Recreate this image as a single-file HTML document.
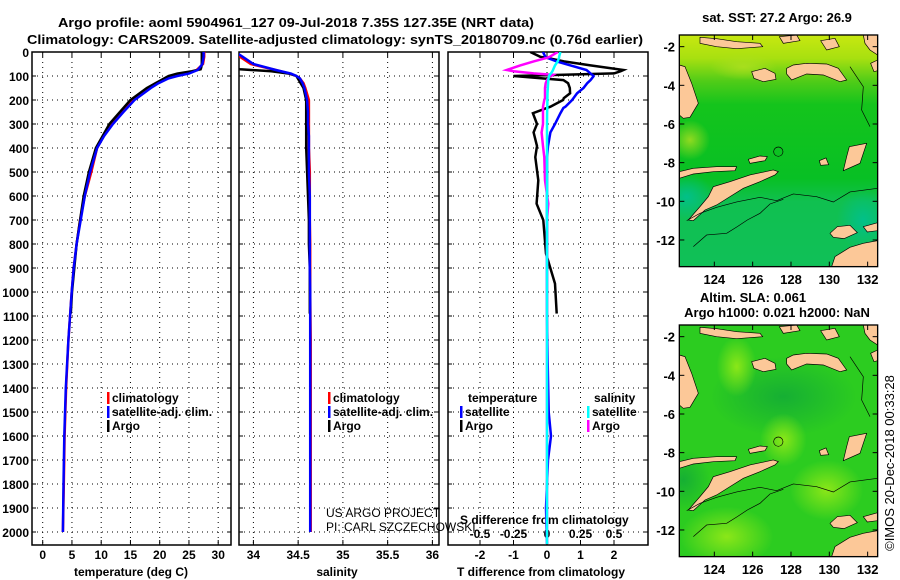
<!DOCTYPE html>
<html><head><meta charset="utf-8"><style>
body{margin:0;background:#fff;}
svg{display:block;font-family:"Liberation Sans",sans-serif;}
.b{font-weight:bold;font-size:13px;fill:#000;}
.t{font-weight:bold;font-size:12px;fill:#000;}
</style></head><body>
<svg id="s" width="900" height="580" viewBox="0 0 900 580" xmlns="http://www.w3.org/2000/svg">
<defs>
<clipPath id="c1"><rect x="32" y="52" width="199" height="493"/></clipPath>
<clipPath id="c2"><rect x="239" y="52" width="200" height="493"/></clipPath>
<clipPath id="c3"><rect x="448" y="52" width="200" height="493"/></clipPath>
<clipPath id="cm"><rect x="88" y="105" width="595" height="695"/></clipPath>
<linearGradient id="g1" x1="0" y1="0" x2="0" y2="1">
<stop offset="0" stop-color="#c8e810"/><stop offset="0.1" stop-color="#a8e010"/><stop offset="0.2" stop-color="#50cc18"/><stop offset="0.3" stop-color="#14c41c"/><stop offset="0.62" stop-color="#08c024"/><stop offset="0.72" stop-color="#10c050"/><stop offset="1" stop-color="#10c058"/></linearGradient>
<radialGradient id="gy"><stop offset="0" stop-color="#b0e020" stop-opacity="0.8"/><stop offset="1" stop-color="#b0e020" stop-opacity="0"/></radialGradient>
<radialGradient id="gt"><stop offset="0" stop-color="#00c090" stop-opacity="0.9"/><stop offset="1" stop-color="#00c090" stop-opacity="0"/></radialGradient>
<radialGradient id="gl"><stop offset="0" stop-color="#90e818" stop-opacity="0.95"/><stop offset="1" stop-color="#90e818" stop-opacity="0"/></radialGradient>
<radialGradient id="gd"><stop offset="0" stop-color="#10a838" stop-opacity="0.8"/><stop offset="1" stop-color="#10a838" stop-opacity="0"/></radialGradient>
<g id="land">
<polygon points="115,660 150,620 175,590 190,560 240,545 300,525 370,510 385,515 375,525 330,545 280,565 240,590 200,615 165,630 130,662"/>
<polygon points="295,478 330,468 352,470 345,482 300,490"/>
<polygon points="88,515 130,505 200,500 260,500 255,512 190,515 130,522 88,535"/>
<polygon points="410,205 430,195 470,190 530,192 565,205 590,240 570,245 520,225 470,222 425,240 410,222"/>
<polygon points="305,215 345,205 375,220 378,238 340,245 312,235"/>
<polygon points="88,195 105,200 125,250 145,310 120,352 100,355 88,345"/>
<polygon points="150,112 200,116 260,125 330,130 338,140 260,146 200,140 150,130"/>
<polygon points="388,110 440,105 450,122 400,130"/>
<polygon points="512,122 555,115 568,140 530,150"/>
<polygon points="640,105 683,105 683,165 660,150 645,130"/>
<polygon points="683,180 662,190 672,215 683,212"/>
<polygon points="598,440 650,430 630,490 580,512 590,470"/>
<polygon points="545,800 555,770 600,742 640,730 683,722 683,800"/>
<polygon points="540,700 562,680 600,676 622,698 582,716 550,712"/>
<polygon points="640,680 683,668 683,692 652,696"/>
<polygon points="508,482 528,474 536,494 512,496"/>
</g>
<g id="coast">
<polyline points="110,662 150,640 200,622 260,606 330,592 380,602 430,582 500,590 550,606 600,576 683,565"/>
<polyline points="130,740 170,705 230,700 262,680 292,660 330,640 360,612 400,598"/>
<polyline points="600,200 640,260 635,330 660,380"/>
<circle cx="385" cy="455" r="14"/>
</g>
</defs>
</svg>
<script>
// ---- data ----
const tDepth = [0,20,50,75,90,100,110,130,150,200,250,300,350,400,500,600,700,800,900,1000,1200,1400,1600,1800,2000];
const tClim = [27.6,27.6,27.4,26.3,24.5,22.5,21,19.3,18,15.3,13.4,11.8,10.4,9.3,8.3,7.2,6.4,5.8,5.3,4.95,4.4,4.0,3.75,3.6,3.45];
const tSat = [27.5,27.5,27.3,26.5,25,23,21.5,19.8,18.5,15.7,13.8,12.0,10.5,9.3,8.1,7.2,6.5,5.8,5.3,4.95,4.4,3.95,3.7,3.55,3.45];
const sClim = [33.8,33.85,33.97,34.25,34.4,34.48,34.52,34.56,34.58,34.62,34.62,34.62,34.62,34.62,34.63,34.63,34.63,34.635,34.635,34.635,34.64,34.64,34.64,34.64,34.64];
const sSat = [33.8,33.88,34.0,34.25,34.42,34.48,34.52,34.55,34.57,34.6,34.61,34.61,34.62,34.62,34.62,34.63,34.63,34.63,34.63,34.635,34.635,34.635,34.635,34.635,34.635];
const aDepth = [0,20,50,65,72,80,90,100,150,200,300,400,500,600,700,800,900,1000,1090];
const tArgo = [27.2,27.2,27.2,27.1,27.0,25.5,23,21.5,17.8,15,11.4,9.1,7.9,7.0,6.4,5.8,5.4,5.0,4.8];
const sArgo = [33.7,33.7,33.7,33.7,33.85,34.2,34.4,34.48,34.56,34.59,34.59,34.59,34.6,34.61,34.62,34.62,34.63,34.63,34.63];
const dDepth = [0,20,24,39,56,75,80,89,95,100,101,117,130,150,172,192,200,228,233,255,300,335,392,438,535,632,701,840,965,1090,1300,1500,1600,1700,1900,2050];
const dtArgo = [-0.5,-0.2,0,0.5,1.3,2.28,2.2,2.0,0.5,-1.0,-0.9,0.49,0.63,0.68,0.69,0.5,0.48,0.1,0,-0.42,-0.3,-0.4,-0.3,-0.35,-0.26,-0.31,-0.11,-0.03,0.24,0.29,null,null,null,null,null,null];
const dtSat = [-0.12,-0.05,0,0.29,0.7,1.18,1.22,1.3,1.35,1.39,1.39,1.3,1.2,1.09,0.9,0.79,0.75,0.55,0.49,0.4,0.24,0.1,0.03,0,0,0,0,0,0,0,0.02,0.05,0.12,0.03,-0.03,0];
const dsArgo = [0.08,0.02,0,-0.1,-0.2,-0.3,-0.25,-0.1,0.045,0.03,0.02,0.0,-0.01,-0.015,-0.015,-0.015,-0.02,-0.03,-0.03,-0.03,-0.03,-0.04,-0.03,-0.02,-0.015,0.01,0.0,0.0,0.0,0.0,0,0,0,0,0,0];
const dsSat = [0.1,0.09,0.09,0.08,0.06,0.045,0.04,0.03,0.02,0.015,0.015,0.01,0.008,0.006,0.004,0.003,0.003,0.002,0.002,0.001,0,0,0,0,0,0,0,0,0,0,0,0,0,0,0,0];
const depthTicks = [0,100,200,300,400,500,600,700,800,900,1000,1100,1200,1300,1400,1500,1600,1700,1800,1900,2000];
const tTicks = [0,5,10,15,20,25,30];
const sTicks = [34,34.5,35,35.5,36];
const dtTicks = [-2,-1,0,1,2];
const dsTicks = [-0.5,-0.25,0,0.25,0.5];
const dsTickLabels = ['-0.5','-0.25','0','0.25','0.5'];
const lonTicks = [124,126,128,130,132];
const latTicks = [-2,-4,-6,-8,-10,-12];

// ---- scales ----
const yD = d => 52 + d*0.24;
const xT = t => 42.7 + t*5.85;
const xS = s => 253.4 + (s-34)*89.5;
const xDT = v => 547 + v*33.5;
const xDS = v => 547 + v*134;
const NS = 'http://www.w3.org/2000/svg';
const svg = document.getElementById('s');
function mk(tag, attrs, parent){const e=document.createElementNS(NS,tag);for(const k in attrs)e.setAttribute(k,attrs[k]);(parent||svg).appendChild(e);return e;}
function txt(x,y,s,cls,anchor,nm,extra){const e=mk('text',Object.assign({x:x,y:y,class:cls,'text-anchor':anchor||'start'},extra||{}));e.textContent=s;


return e;}

txt(58,27,'Argo profile: aoml 5904961_127 09-Jul-2018 7.35S 127.35E (NRT data)','b','start','title-line-1',{textLength:476,lengthAdjust:'spacingAndGlyphs'});
txt(27,44,'Climatology: CARS2009. Satellite-adjusted climatology: synTS_20180709.nc (0.76d earlier)','b','start','title-line-2',{textLength:616,lengthAdjust:'spacingAndGlyphs'});

const panels = [[32,231,'temperature-panel',tTicks,xT,tTicks.map(String)],[239,439,'salinity-panel',sTicks,xS,sTicks.map(String)],[448,648,'difference-panel',dtTicks,xDT,dtTicks.map(String)]];
panels.forEach(([x0,x1,nm,ticks,xf,labs])=>{
  const g = mk('g',{});
  
  
  depthTicks.forEach(d=>{ if(d>0) mk('line',{x1:x0,x2:x1,y1:yD(d),y2:yD(d),stroke:'#000','stroke-width':1,'stroke-dasharray':'1,4'},g);
    mk('line',{x1:x0,x2:x0+4,y1:yD(d),y2:yD(d),stroke:'#000'},g); mk('line',{x1:x1-4,x2:x1,y1:yD(d),y2:yD(d),stroke:'#000'},g);});
  ticks.forEach((t,i)=>{const x=xf(t); mk('line',{x1:x,x2:x,y1:52,y2:545,stroke:'#000','stroke-dasharray':'1,4'},g);
    mk('line',{x1:x,x2:x,y1:52,y2:57,stroke:'#000'},g); mk('line',{x1:x,x2:x,y1:540,y2:545,stroke:'#000'},g);
    txt(x,559,labs[i],'t','middle',nm+'-x-tick');});
  mk('rect',{x:x0,y:52,width:x1-x0,height:493,fill:'none',stroke:'#000','stroke-width':1.5},g);
});
depthTicks.forEach(d=>txt(29,yD(d)+5,String(d),'t','end','depth-tick'));
txt(131,576,'temperature (deg C)','t','middle','x-axis-title-temperature');
txt(337,576,'salinity','t','middle','x-axis-title-salinity');
txt(541,576,'T difference from climatology','t','middle','x-axis-title-t-diff');
txt(460,524,'S difference from climatology','t','start','s-diff-axis-title');
dsTicks.forEach((v,i)=>txt(xDS(v),538,dsTickLabels[i],'t','middle','s-diff-tick'));

function prof(depths, vals, xf, color, clip, nm){
  const pts=[]; depths.forEach((d,i)=>{ if(vals[i]!==null) pts.push(xf(vals[i]).toFixed(1)+','+yD(d).toFixed(1)); });
  const p = mk('polyline',{points:pts.join(' '),fill:'none',stroke:color,'stroke-width':2.5,'clip-path':'url(#'+clip+')'});
  
  
}
prof(tDepth,tClim,xT,'#ff0000','c1','temperature-climatology-line');
prof(aDepth,tArgo,xT,'#000000','c1','temperature-argo-line');
prof(tDepth,tSat,xT,'#0000ff','c1','temperature-satellite-line');
prof(tDepth,sClim,xS,'#ff0000','c2','salinity-climatology-line');
prof(aDepth,sArgo,xS,'#000000','c2','salinity-argo-line');
prof(tDepth,sSat,xS,'#0000ff','c2','salinity-satellite-line');
prof(dDepth,dtArgo,xDT,'#000000','c3','t-diff-argo-line');
prof(dDepth,dtSat,xDT,'#0000ff','c3','t-diff-satellite-line');
prof(dDepth,dsArgo,xDS,'#ff00ff','c3','s-diff-argo-line');
prof(dDepth,dsSat,xDS,'#00ffff','c3','s-diff-satellite-line');

function leg(x,y,color,label,nm){ mk('rect',{x:x,y:y-10,width:2.5,height:12,fill:color}); txt(x+5,y,label,'t','start',nm); }
leg(107,402,'#ff0000','climatology','legend-temp-climatology');
leg(107,416,'#0000ff','satellite-adj. clim.','legend-temp-satellite');
leg(107,430,'#000000','Argo','legend-temp-argo');
leg(328,402,'#ff0000','climatology','legend-sal-climatology');
leg(328,416,'#0000ff','satellite-adj. clim.','legend-sal-satellite');
leg(328,430,'#000000','Argo','legend-sal-argo');
txt(468,402,'temperature','t','start','legend-diff-temperature-header');
txt(594,402,'salinity','t','start','legend-diff-salinity-header');
leg(460,416,'#0000ff','satellite','legend-diff-t-satellite');
leg(460,430,'#000000','Argo','legend-diff-t-argo');
leg(587,416,'#00ffff','satellite','legend-diff-s-satellite');
leg(587,430,'#ff00ff','Argo','legend-diff-s-argo');
txt(326,517,'US ARGO PROJECT','t','start','project-credit',{style:'font-weight:normal'});
txt(326,531,'PI: CARL SZCZECHOWSKI','t','start','pi-credit',{style:'font-weight:normal'});

function map(oy, nm, top){
  const g = mk('g',{transform:'translate(650,'+oy+') scale(0.3333)'});
  
  
  const c = mk('g',{'clip-path':'url(#cm)'},g);
  if(top){
    mk('rect',{x:88,y:105,width:595,height:695,fill:'url(#g1)'},c);
    mk('ellipse',{cx:120,cy:420,rx:60,ry:60,fill:'url(#gy)'},c);
    mk('ellipse',{cx:110,cy:590,rx:80,ry:70,fill:'url(#gt)'},c);
    mk('ellipse',{cx:640,cy:660,rx:80,ry:90,fill:'url(#gt)'},c);
    mk('ellipse',{cx:280,cy:200,rx:100,ry:40,fill:'url(#gy)'},c);
  } else {
    mk('rect',{x:88,y:105,width:595,height:695,fill:'#2ccc20'},c);
    mk('ellipse',{cx:400,cy:320,rx:220,ry:120,fill:'url(#gd)'},c);
    mk('ellipse',{cx:100,cy:570,rx:80,ry:90,fill:'url(#gd)'},c);
    mk('ellipse',{cx:530,cy:600,rx:110,ry:90,fill:'url(#gl)'},c);
    mk('ellipse',{cx:230,cy:740,rx:140,ry:90,fill:'url(#gl)'},c);
    mk('ellipse',{cx:400,cy:450,rx:70,ry:80,fill:'url(#gl)'},c);
    mk('ellipse',{cx:260,cy:230,rx:60,ry:90,fill:'url(#gl)'},c);
  }
  mk('use',{href:'#land',fill:'#fcc898',stroke:'#000','stroke-width':2},c);
  mk('use',{href:'#coast',fill:'none',stroke:'#000','stroke-width':2},c);
  mk('rect',{x:88,y:105,width:595,height:695,fill:'none',stroke:'#000','stroke-width':4},g);
  lonTicks.forEach(l=>{const x=193+(l-124)*57.5; mk('line',{x1:x,x2:x,y1:785,y2:800,stroke:'#000','stroke-width':3},g); mk('line',{x1:x,x2:x,y1:105,y2:120,stroke:'#000','stroke-width':3},g);
    txt(650+x/3,oy+284,String(l),'b','middle','map-lon-tick');});
  latTicks.forEach(l=>{const y=140+(-2-l)*58; mk('line',{x1:88,x2:103,y1:y,y2:y,stroke:'#000','stroke-width':3},g); mk('line',{x1:668,x2:683,y1:y,y2:y,stroke:'#000','stroke-width':3},g);
    txt(675,oy+y/3+5,String(l),'b','end','map-lat-tick');});
}
map(0,'sst-map',true);
map(290,'sla-map',false);
txt(777,22,'sat. SST: 27.2 Argo: 26.9','b','middle','sst-map-title');
txt(753,302,'Altim. SLA: 0.061','b','middle','sla-map-title');
txt(777,317,'Argo h1000: 0.021 h2000: NaN','b','middle','sla-map-subtitle');
txt(0,0,'\u00a9IMOS 20-Dec-2018 00:33:28','t','middle','timestamp-credit',{transform:'translate(894,463) rotate(-90)',style:'font-weight:normal;font-size:13px'});
</script>
</body></html>
